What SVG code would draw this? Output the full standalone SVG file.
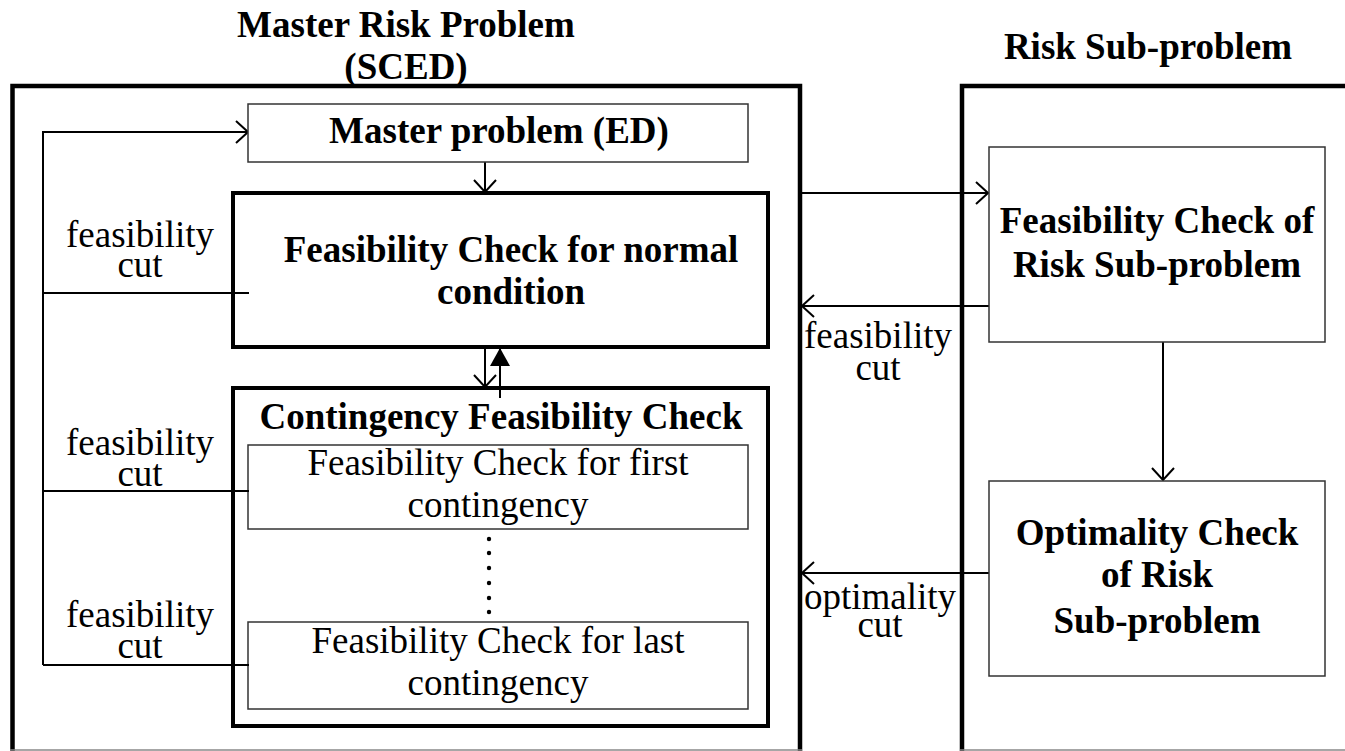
<svg xmlns="http://www.w3.org/2000/svg" width="1345" height="751" viewBox="0 0 1345 751">
  <style>
    .title { font-family: "Liberation Serif", "Times New Roman", serif; font-weight: bold; font-size: 37px; fill: #000; text-anchor: middle; }
    .bold { font-family: "Liberation Serif", "Times New Roman", serif; font-weight: bold; font-size: 37px; fill: #000; text-anchor: middle; }
    .reg { font-family: "Liberation Serif", "Times New Roman", serif; font-size: 37px; fill: #000; text-anchor: middle; }
    .frame { fill: none; stroke: #000; stroke-width: 4.5; }
    .thick { fill: #fff; stroke: #000; stroke-width: 4; }
    .thin { fill: #fff; stroke: #333; stroke-width: 1.5; }
    .link { fill: none; stroke: #000; stroke-width: 2; }
    .edge { stroke: #888; stroke-width: 1.5; }
  </style>
  <defs>
    <marker id="open" viewBox="0 0 14 24" refX="13" refY="12" markerWidth="14" markerHeight="24" markerUnits="userSpaceOnUse" orient="auto">
      <path d="M1,1 L13,12 L1,23" fill="none" stroke="#000" stroke-width="2"/>
    </marker>
    <marker id="solid" viewBox="0 0 18 20" refX="18" refY="10" markerWidth="18" markerHeight="20" markerUnits="userSpaceOnUse" orient="auto">
      <path d="M0,0 L18,10 L0,20 Z" fill="#000"/>
    </marker>
  </defs>

  <!-- headings -->
  <text class="title" x="406" y="37">Master Risk Problem</text>
  <text class="title" x="406" y="79">(SCED)</text>
  <text class="title" x="1148" y="59">Risk Sub-problem</text>

  <!-- outer frames (lower edge runs off the page) -->
  <g id="master-frame">
    <path class="frame" d="M12.5,751 V86 H800 V751"/>
  </g>
  <g id="sub-frame">
    <path class="frame" d="M962,751 V86 H1350"/>
  </g>
  <line class="edge" x1="10" y1="750" x2="802" y2="750"/>
  <line class="edge" x1="960" y1="750" x2="1345" y2="750"/>

  <!-- connectors -->
  <g id="connectors">
    <!-- feasibility cut loop back to the master problem -->
    <path class="link" d="M43,665 V132 H248" marker-end="url(#open)"/>
    <line class="link" x1="43" y1="293" x2="249" y2="293"/>
    <line class="link" x1="43" y1="491" x2="249" y2="491"/>
    <line class="link" x1="43" y1="665" x2="249" y2="665"/>
    <!-- master problem to normal check -->
    <line class="link" x1="485" y1="162" x2="485" y2="192" marker-end="url(#open)"/>
    <!-- normal check down / contingency check up -->
    <line class="link" x1="485" y1="348" x2="485" y2="387" marker-end="url(#open)"/>
    <line class="link" x1="500" y1="398" x2="500" y2="348" marker-end="url(#solid)"/>
    <!-- master to risk sub-problem and cuts back -->
    <line class="link" x1="800" y1="193" x2="988" y2="193" marker-end="url(#open)"/>
    <line class="link" x1="989" y1="306" x2="802" y2="306" marker-end="url(#open)"/>
    <line class="link" x1="989" y1="573" x2="802" y2="573" marker-end="url(#open)"/>
    <line class="link" x1="1163" y1="342" x2="1163" y2="480" marker-end="url(#open)"/>
  </g>

  <!-- connector labels -->
  <g id="cut-labels">
    <text class="reg" x="140" y="247">feasibility</text>
    <text class="reg" x="140" y="277">cut</text>
    <text class="reg" x="140" y="455">feasibility</text>
    <text class="reg" x="140" y="486">cut</text>
    <text class="reg" x="140" y="627">feasibility</text>
    <text class="reg" x="140" y="658">cut</text>
    <text class="reg" x="878" y="348">feasibility</text>
    <text class="reg" x="878" y="380">cut</text>
    <text class="reg" x="880" y="609">optimality</text>
    <text class="reg" x="880" y="637">cut</text>
  </g>

  <g id="master-problem">
    <rect class="thin" x="248" y="104" width="500" height="58"/>
    <text class="bold" x="499" y="143">Master problem (ED)</text>
  </g>

  <g id="normal-check">
    <rect class="thick" x="233" y="193" width="535" height="154"/>
    <text class="bold" x="511" y="262">Feasibility Check for normal</text>
    <text class="bold" x="511" y="304">condition</text>
  </g>
  <line class="link" x1="43" y1="293" x2="249" y2="293"/>

  <g id="contingency-check">
    <rect class="thick" x="233" y="388" width="535" height="338"/>
    <text class="bold" x="501" y="429">Contingency Feasibility Check</text>
  </g>
  <line class="link" x1="500" y1="388" x2="500" y2="398"/>

  <g id="first-contingency">
    <rect class="thin" x="248" y="445" width="500" height="84"/>
    <text class="reg" x="498" y="475">Feasibility Check for first</text>
    <text class="reg" x="498" y="517">contingency</text>
  </g>
  <line class="link" x1="43" y1="491" x2="249" y2="491"/>

  <g id="ellipsis">
    <circle cx="489" cy="539" r="2.2"/>
    <circle cx="489" cy="553" r="2.2"/>
    <circle cx="489" cy="568" r="2.2"/>
    <circle cx="489" cy="583" r="2.2"/>
    <circle cx="489" cy="598" r="2.2"/>
    <circle cx="489" cy="612" r="2.2"/>
  </g>

  <g id="last-contingency">
    <rect class="thin" x="248" y="622" width="500" height="87"/>
    <text class="reg" x="498" y="653">Feasibility Check for last</text>
    <text class="reg" x="498" y="695">contingency</text>
  </g>
  <line class="link" x1="43" y1="665" x2="249" y2="665"/>

  <g id="risk-feasibility">
    <rect class="thin" x="989" y="147" width="336" height="195"/>
    <text class="bold" x="1157" y="233">Feasibility Check of</text>
    <text class="bold" x="1157" y="277">Risk Sub-problem</text>
  </g>

  <g id="risk-optimality">
    <rect class="thin" x="989" y="481" width="336" height="195"/>
    <text class="bold" x="1157" y="545">Optimality Check</text>
    <text class="bold" x="1157" y="587">of Risk</text>
    <text class="bold" x="1157" y="633">Sub-problem</text>
  </g>
</svg>
